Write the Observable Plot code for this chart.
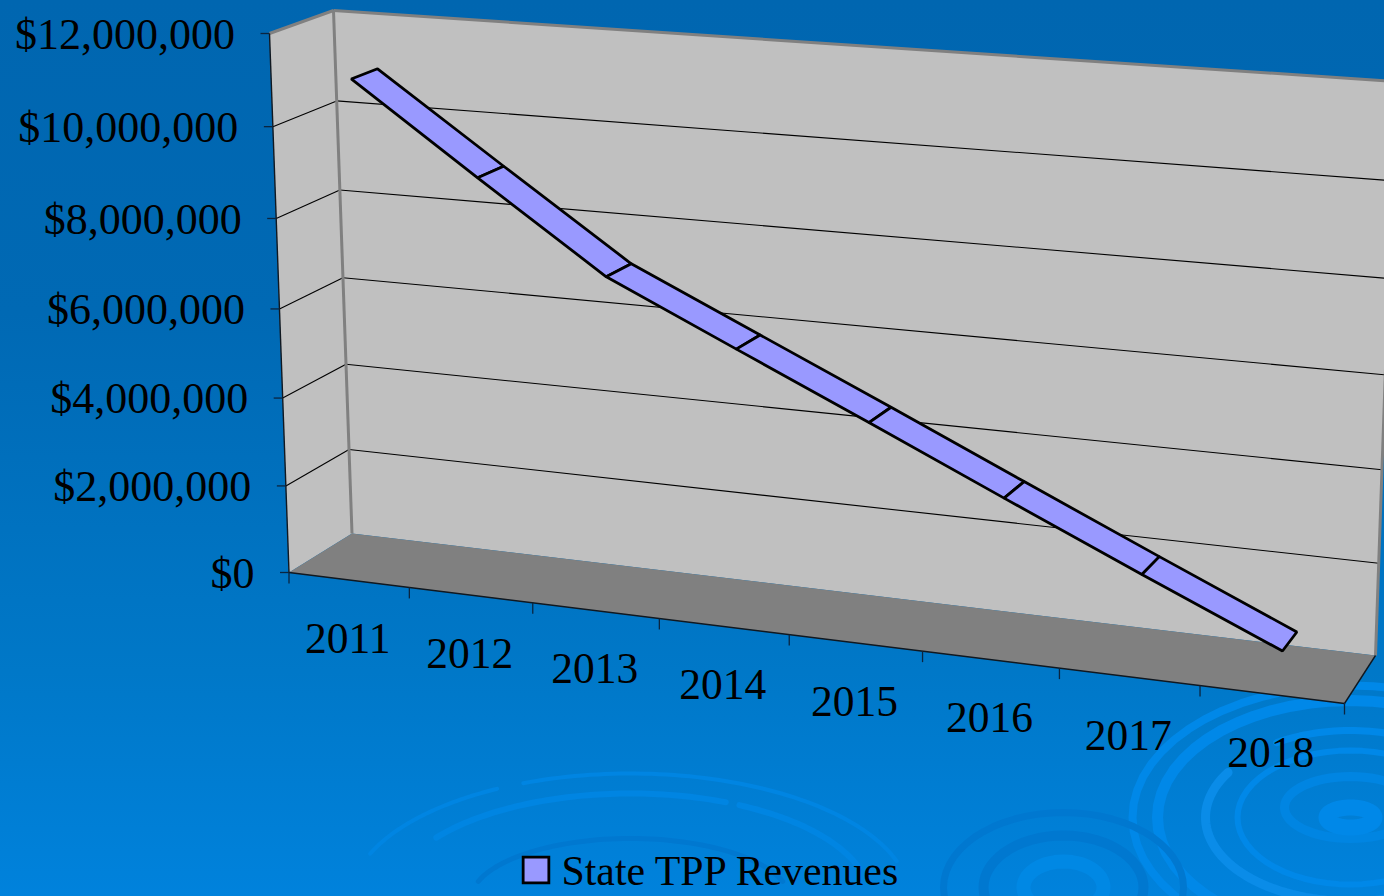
<!DOCTYPE html>
<html>
<head>
<meta charset="utf-8">
<script src="https://cdn.jsdelivr.net/npm/d3@7"></script>
<script src="https://cdn.jsdelivr.net/npm/@observablehq/plot@0.6"></script>
<style>
html,body{margin:0;padding:0;width:1384px;height:896px;overflow:hidden;background:linear-gradient(180deg,#0066b0 0%,#0069b4 35%,#0078c8 75%,#0082dc 100%);}
#chart{position:absolute;left:0;top:0}
#chart svg{display:block;background:transparent}
</style>
</head>
<body>
<div id="chart"></div>
<script>
const years = [2011, 2012, 2013, 2014, 2015, 2016, 2017, 2018];
const revenues = [10970000, 9050000, 7150000, 5850000, 4550000, 3230000, 1920000, 630000];
const valueTicks = [0, 2000000, 4000000, 6000000, 8000000, 10000000, 12000000];
const seriesName = "State TPP Revenues";

// The library's scales normalise the data; the box below places it in perspective.
const catScale = Plot.scale({x: {domain: [2010.5, 2018.5], range: [0, 1]}});
const valScale = Plot.scale({y: {domain: [0, 12000000], range: [0, 1]}});
const warp = (t, k) => t / (t + k * (1 - t));
const corners = {
  fbl: [288.5, 572], fbr: [1344, 703], ftl: [269, 33], ftr: [1323, 110],
  bbl: [351.5, 533], bbr: [1375, 655], btl: [333, 10], btr: [1395, 81]
};
const mix = (a, b, t) => [a[0] + (b[0] - a[0]) * t, a[1] + (b[1] - a[1]) * t];
function project(year, value, depth) {
  const u = warp(catScale.apply(year), depth === 0 ? 1.11 : 1.09), v = warp(valScale.apply(value), 1.045);
  const c = corners;
  const front = mix(mix(c.fbl, c.fbr, u), mix(c.ftl, c.ftr, u), v);
  const back = mix(mix(c.bbl, c.bbr, u), mix(c.btl, c.btr, u), v);
  return mix(front, back, depth);
}
const x0 = 2010.5, x1 = 2018.5, vTop = 12000000;
const poly = (pts, i = 0) => pts.map(p => { const [x, y] = project(...p); return {x, y, i}; });
const seg = (a, b) => { const [p, q] = [project(...a), project(...b)]; return {x1: p[0], y1: p[1], x2: q[0], y2: q[1]}; };

const backWall = poly([[x0, 0, 1], [x1, 0, 1], [x1, vTop, 1], [x0, vTop, 1]]);
const sideWall = poly([[x0, 0, 0], [x0, 0, 1], [x0, vTop, 1], [x0, vTop, 0]]);
const floor = poly([[x0, 0, 0], [x1, 0, 0], [x1, 0, 1], [x0, 0, 1]]);

const d0 = 0.30, d1 = 0.71;
const ribbon = years.slice(1).flatMap((yr, i) => poly([
  [years[i], revenues[i], d0], [yr, revenues[i + 1], d0],
  [yr, revenues[i + 1], d1], [years[i], revenues[i], d1]
], i));

const gridV = valueTicks.slice(1, -1);
const gridBack = gridV.map(v => seg([x0, v, 1], [x1, v, 1]));
const gridSide = gridV.map(v => seg([x0, v, 0], [x0, v, 1]));
const wallEdges = [
  seg([x0, vTop, 0], [x0, vTop, 1]), seg([x0, vTop, 1], [x1, vTop, 1]),
  seg([x0, 0, 1], [x0, vTop, 1]), seg([x1, 0, 1], [x1, vTop, 1])
];
const axisEdges = [seg([x0, 0, 0], [x0, vTop, 0]), seg([x0, 0, 0], [x1, 0, 0]), seg([x1, 0, 0], [x1, 0, 1])];
const yTicks = valueTicks.map(v => { const [x, y] = project(x0, v, 0); return {v, x, y}; });
const xEdges = d3.range(0, 9).map(i => { const [x, y] = project(x0 + i, 0, 0); return {x, y}; });
const xLabels = years.map(yr => { const [x, y] = project(yr, 0, 0); return {yr, x, y}; });

// Background water ripples (decoration only)
const bright = "#0088e8", soft = "#0085e2", dark = "#0078d0";
const ripples = [
  {cx: 1350, cy: 817, rx: 218, ry: 132, w: 8, c: bright},
  {cx: 1350, cy: 817, rx: 193, ry: 117, w: 11, c: bright},
  {cx: 1350, cy: 817, rx: 145, ry: 84, w: 9, c: "#0a8ce8", arc: [0.12, 0.59]},
  {cx: 1350, cy: 817, rx: 145, ry: 87, w: 7, c: bright, arc: [0.665, 1.0]},
  {cx: 1350, cy: 817, rx: 113, ry: 67, w: 6, c: bright},
  {cx: 1350, cy: 807, rx: 66, ry: 31, w: 9, c: soft},
  {cx: 1350, cy: 817, rx: 24, ry: 10, w: 16, c: bright},
  {cx: 1063, cy: 887, rx: 120, ry: 75, w: 7, c: dark},
  {cx: 1063, cy: 887, rx: 80, ry: 52, w: 10, c: dark},
  {cx: 1063, cy: 887, rx: 40, ry: 26, w: 14, c: "#0088e4"},
  {cx: 630, cy: 900, rx: 280, ry: 127, w: 4, c: soft, arc: [0.56, 0.671]},
  {cx: 630, cy: 900, rx: 280, ry: 127, w: 4, c: soft, arc: [0.6875, 0.95]},
  {cx: 630, cy: 900, rx: 240, ry: 107, w: 6, c: soft, arc: [0.60, 0.815]},
  {cx: 630, cy: 900, rx: 240, ry: 107, w: 6, c: soft, arc: [0.825, 0.95]},
  {cx: 630, cy: 900, rx: 160, ry: 62, w: 5, c: dark, arc: [0.55, 0.95]}
];
const ripplePts = ripples.flatMap((r, i) => {
  const [a, b] = r.arc || [0, 1];
  return d3.range(0, 61).map(k => {
    const t = (a + (b - a) * k / 60) * 2 * Math.PI;
    return {x: r.cx + r.rx * Math.cos(t), y: r.cy + r.ry * Math.sin(t), i};
  });
});

const black = "#000";
const chart = Plot.plot({
  width: 1384, height: 896, margin: 0,
  x: {type: "identity", axis: null},
  y: {type: "identity", axis: null},
  style: {background: "transparent", fontFamily: "'Liberation Serif', 'Times New Roman', serif"},
  marks: [
    ...ripples.map((r, i) => Plot.line(ripplePts.filter(p => p.i === i), {x: "x", y: "y", stroke: r.c, strokeWidth: r.w, curve: "linear"})),
    Plot.line(backWall, {x: "x", y: "y", fill: "#c0c0c0", curve: "linear-closed"}),
    Plot.line(sideWall, {x: "x", y: "y", fill: "#c0c0c0", curve: "linear-closed"}),
    Plot.line(floor, {x: "x", y: "y", fill: "#808080", curve: "linear-closed"}),
    Plot.link(gridBack, {x1: "x1", y1: "y1", x2: "x2", y2: "y2", stroke: black, strokeWidth: 1.1}),
    Plot.link(gridSide, {x1: "x1", y1: "y1", x2: "x2", y2: "y2", stroke: black, strokeWidth: 1.1}),
    Plot.link(wallEdges, {x1: "x1", y1: "y1", x2: "x2", y2: "y2", stroke: "#808080", strokeWidth: 3}),
    Plot.link(axisEdges, {x1: "x1", y1: "y1", x2: "x2", y2: "y2", stroke: "#101820", strokeWidth: 1.4}),
    Plot.link(yTicks, {x1: "x", y1: "y", x2: d => d.x - 9, y2: "y", stroke: "#0a2540", strokeWidth: 1.3}),
    Plot.link(xEdges, {x1: "x", y1: "y", x2: "x", y2: d => d.y + 11, stroke: "#0a2540", strokeWidth: 1.3}),
    Plot.line(ribbon, {x: "x", y: "y", z: "i", fill: "#9999ff", stroke: black, strokeWidth: 2.8, strokeLinejoin: "miter", curve: "linear-closed"}),
    Plot.text(yTicks, {x: d => d.x - 34.5, y: d => d.y + 1, text: d => d3.format("$,")(d.v), textAnchor: "end", lineAnchor: "middle", fontSize: 44, fill: black}),
    Plot.text(xLabels, {x: d => d.x - 1, y: d => d.y + 59, text: d => String(d.yr), textAnchor: "middle", lineAnchor: "middle", fontSize: 43.5, fill: black}),
    Plot.dot([{x: 535.5, y: 869.5}], {x: "x", y: "y", symbol: "square", r: 14.5, fill: "#9999ff", stroke: black, strokeWidth: 2.8}),
    Plot.text([seriesName], {x: () => 561, y: () => 871, text: d => d, textAnchor: "start", lineAnchor: "middle", fontSize: 41.8, fill: black})
  ]
});
document.getElementById("chart").appendChild(chart);
</script>
</body>
</html>
